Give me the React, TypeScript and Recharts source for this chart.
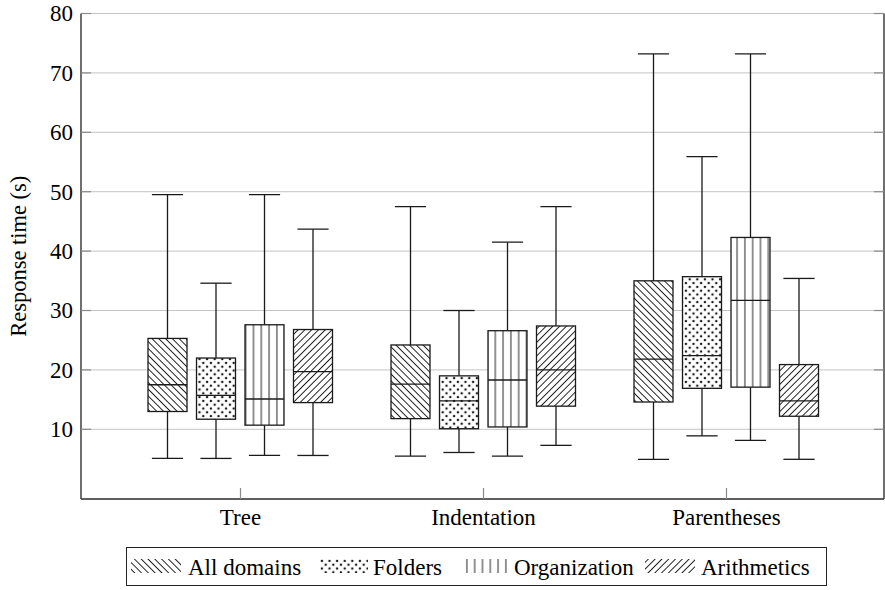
import React from 'react';
import { ComposedChart, Bar, XAxis, YAxis, CartesianGrid } from 'recharts';

const categories = ['Tree', 'Indentation', 'Parentheses'];
const seriesNames = ['All domains', 'Folders', 'Organization', 'Arithmetics'];
const yTicks = [10, 20, 30, 40, 50, 60, 70, 80];

// five-number summaries per category: [min, q1, median, q3, max]
const allDomains = [
  [5.1, 13.0, 17.5, 25.3, 49.5],
  [5.5, 11.8, 17.6, 24.2, 47.5],
  [4.95, 14.6, 21.8, 35.0, 73.2],
];
const folders = [
  [5.1, 11.7, 15.7, 22.0, 34.6],
  [6.1, 10.1, 14.8, 19.0, 30.0],
  [8.9, 16.9, 22.4, 35.7, 55.9],
];
const organization = [
  [5.6, 10.7, 15.1, 27.6, 49.5],
  [5.5, 10.4, 18.3, 26.6, 41.5],
  [8.15, 17.1, 31.7, 42.3, 73.2],
];
const arithmetics = [
  [5.6, 14.5, 19.7, 26.8, 43.7],
  [7.3, 13.9, 20.0, 27.4, 47.5],
  [4.95, 12.2, 14.8, 20.9, 35.4],
];

const seriesStats = [allDomains, folders, organization, arithmetics];
const patternIds = ['pat-nw', 'pat-dots', 'pat-vert', 'pat-ne'];

const data = categories.map((c, ci) => {
  const row: any = { category: c };
  seriesStats.forEach((s, si) => {
    row['s' + si] = [s[ci][0], s[ci][4]];
    row['st' + si] = s[ci];
  });
  return row;
});

const INK = '#1a1a1a';
const FONT = '"Liberation Serif", monospace';

const Patterns = ({ prefix }: { prefix: string }) => (
  <defs>
    <pattern id={prefix + 'pat-nw'} width={4.8} height={4.8} patternUnits="userSpaceOnUse" patternTransform="rotate(-45)">
      <rect width={4.8} height={4.8} fill="#fff" />
      <line x1={2.4} y1={-1} x2={2.4} y2={6} stroke={INK} strokeWidth={0.95} />
    </pattern>
    <pattern id={prefix + 'pat-ne'} width={4.8} height={4.8} patternUnits="userSpaceOnUse" patternTransform="rotate(45)">
      <rect width={4.8} height={4.8} fill="#fff" />
      <line x1={2.4} y1={-1} x2={2.4} y2={6} stroke={INK} strokeWidth={0.95} />
    </pattern>
    <pattern id={prefix + 'pat-vert'} width={7.8} height={7.8} patternUnits="userSpaceOnUse">
      <rect width={7.8} height={7.8} fill="#fff" />
      <line x1={3.9} y1={-1} x2={3.9} y2={9} stroke={INK} strokeWidth={0.95} />
    </pattern>
    <pattern id={prefix + 'pat-dots'} width={7.6} height={7.6} patternUnits="userSpaceOnUse">
      <rect width={7.6} height={7.6} fill="#fff" />
      <circle cx={1.9} cy={1.9} r={1.25} fill={INK} />
      <circle cx={5.7} cy={5.7} r={1.25} fill={INK} />
    </pattern>
  </defs>
);

const makeBoxShape = (si: number) => (props: any) => {
  const { x, y, width, height, payload } = props;
  const st = payload['st' + si];
  const [min, q1, med, q3, max] = st;
  const top = Math.min(y, y + height);
  const bot = Math.max(y, y + height);
  const py = (v: number) => bot - ((v - min) / (max - min)) * (bot - top);
  const cx = x + width / 2;
  const capHalf = width * 0.4;
  const sw = 1.3;
  return (
    <g>
      <line x1={cx} x2={cx} y1={py(max)} y2={py(q3)} stroke={INK} strokeWidth={sw} />
      <line x1={cx} x2={cx} y1={py(q1)} y2={py(min)} stroke={INK} strokeWidth={sw} />
      <line x1={cx - capHalf} x2={cx + capHalf} y1={py(max)} y2={py(max)} stroke={INK} strokeWidth={sw} />
      <line x1={cx - capHalf} x2={cx + capHalf} y1={py(min)} y2={py(min)} stroke={INK} strokeWidth={sw} />
      <rect x={x} y={py(q3)} width={width} height={py(q1) - py(q3)} fill={`url(#c-${patternIds[si]})`} stroke={INK} strokeWidth={sw} />
      <line x1={x} x2={x + width} y1={py(med)} y2={py(med)} stroke={INK} strokeWidth={sw} />
    </g>
  );
};

const YTickLeft = (props: any) => {
  const { x, y, payload } = props;
  return (
    <g>
      <line x1={x} x2={x + 10} y1={y} y2={y} stroke="#8a8a8a" strokeWidth={1.2} />
      <text x={x - 8} y={y} dy="0.34em" textAnchor="end" fill="#000" fontSize={23} style={{ fontFamily: FONT }}>
        {payload.value}
      </text>
    </g>
  );
};

const YTickRight = (props: any) => {
  const { x, y } = props;
  return <line x1={x - 10} x2={x} y1={y} y2={y} stroke="#8a8a8a" strokeWidth={1.2} />;
};

const XTickBottom = (props: any) => {
  const { x, y, payload } = props;
  return (
    <g>
      <line x1={x} x2={x} y1={y} y2={y - 11} stroke="#8a8a8a" strokeWidth={1.2} />
      <text x={x} y={y + 26} textAnchor="middle" fill="#000" fontSize={23} style={{ fontFamily: FONT }}>
        {payload.value}
      </text>
    </g>
  );
};

const XTickTop = (props: any) => {
  const { x, y } = props;
  return <line x1={x} x2={x} y1={y} y2={y + 11} stroke="#8a8a8a" strokeWidth={1.2} />;
};

const YLabel = (props: any) => {
  const vb = props.viewBox || {};
  const cy = vb.y + vb.height / 2;
  const lx = 19;
  return (
    <text x={lx} y={cy} transform={`rotate(-90 ${lx} ${cy})`} textAnchor="middle" dy="0.32em" fill="#000" fontSize={22.5} style={{ fontFamily: FONT }}>
      Response time (s)
    </text>
  );
};

const legendLayout = [
  { sw: 4, sww: 50, tx: 61 },
  { sw: 193, sww: 48, tx: 246 },
  { sw: 336, sww: 44, tx: 387 },
  { sw: 518, sww: 50, tx: 574 },
];

const LegendBox = () => (
  <div
    style={{
      position: 'absolute',
      left: 126,
      top: 547,
      width: 701,
      height: 39,
      border: '1.3px solid #222',
      boxSizing: 'border-box',
      background: '#fff',
      fontSize: 23,
      color: '#000',
      fontFamily: FONT,
    }}
  >
    <svg width={0} height={0} style={{ position: 'absolute' }}>
      <Patterns prefix="l-" />
    </svg>
    {seriesNames.map((name, i) => (
      <React.Fragment key={name}>
        <svg
          width={legendLayout[i].sww}
          height={14}
          style={{ position: 'absolute', left: legendLayout[i].sw, top: 11 }}
        >
          <rect x={0} y={0} width={legendLayout[i].sww} height={14} fill={`url(#l-${patternIds[i]})`} />
        </svg>
        <div
          style={{
            position: 'absolute',
            left: legendLayout[i].tx,
            top: 1,
            lineHeight: '37px',
            whiteSpace: 'nowrap',
            fontFamily: FONT,
          }}
        >
          {name}
        </div>
      </React.Fragment>
    ))}
  </div>
);

export default function App() {
  return (
    <div style={{ position: 'absolute', left: 0, top: 0, width: 885, height: 590, overflow: 'hidden', background: '#fff', fontFamily: FONT }}>
      <ComposedChart
        width={885}
        height={590}
        data={data}
        margin={{ top: 13.5, right: 0, left: 0, bottom: 51 }}
        barSize={39}
        barGap={9.5}
      >
        <Patterns prefix="c-" />
        <CartesianGrid vertical={false} stroke="#c4c4c4" strokeWidth={1} />
        <XAxis
          dataKey="category"
          xAxisId={0}
          height={40}
          padding={{ left: 38, right: 36 }}
          tickSize={0}
          tickMargin={0}
          tickLine={false}
          axisLine={{ stroke: '#333', strokeWidth: 1.4 }}
          tick={<XTickBottom />}
          interval={0}
        />
        <XAxis
          dataKey="category"
          xAxisId="top"
          orientation="top"
          height={0}
          padding={{ left: 38, right: 36 }}
          tickSize={0}
          tickMargin={0}
          tickLine={false}
          axisLine={{ stroke: '#333', strokeWidth: 1.4 }}
          tick={<XTickTop />}
          interval={0}
        />
        <YAxis
          yAxisId={0}
          width={81}
          domain={[-1.73, 80]}
          ticks={yTicks}
          type="number"
          allowDataOverflow
          tickSize={0}
          tickMargin={0}
          tickLine={false}
          axisLine={{ stroke: '#333', strokeWidth: 1.4 }}
          tick={<YTickLeft />}
          interval={0}
          label={<YLabel />}
        />
        <YAxis
          yAxisId="right"
          orientation="right"
          width={1}
          domain={[-1.73, 80]}
          ticks={yTicks}
          type="number"
          allowDataOverflow
          tickSize={0}
          tickMargin={0}
          tickLine={false}
          axisLine={{ stroke: '#333', strokeWidth: 1.4 }}
          tick={<YTickRight />}
          interval={0}
        />
        {seriesNames.map((name, si) => (
          <Bar
            key={name}
            name={name}
            dataKey={'s' + si}
            xAxisId={0}
            yAxisId={0}
            isAnimationActive={false}
            shape={makeBoxShape(si)}
          />
        ))}
      </ComposedChart>
      <LegendBox />
    </div>
  );
}
